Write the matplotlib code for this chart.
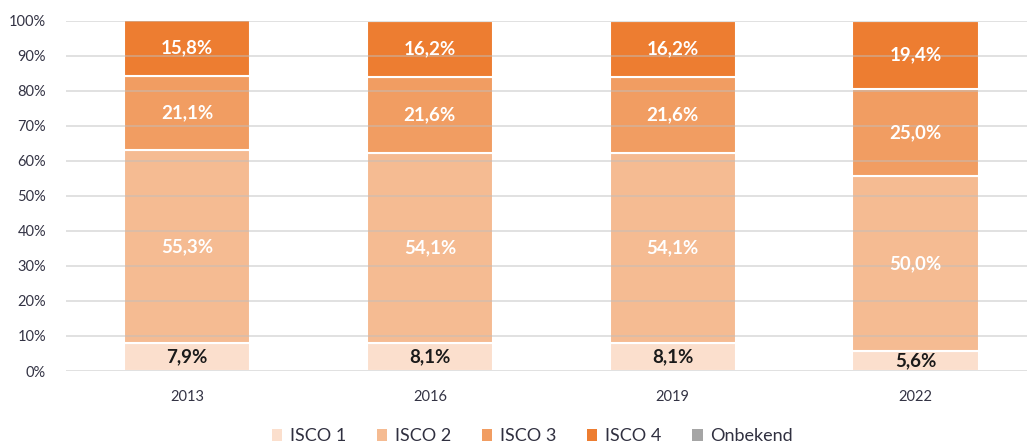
import matplotlib
matplotlib.use("Agg")
import matplotlib.pyplot as plt
from matplotlib.patches import Patch

plt.rcParams['font.family'] = ['Lato', 'DejaVu Sans']

years = ["2013", "2016", "2019", "2022"]
series_names = ["ISCO 1", "ISCO 2", "ISCO 3", "ISCO 4", "Onbekend"]
isco1 = [7.9, 8.1, 8.1, 5.6]
isco2 = [55.3, 54.1, 54.1, 50.0]
isco3 = [21.1, 21.6, 21.6, 25.0]
isco4 = [15.8, 16.2, 16.2, 19.4]
onbekend = [0.0, 0.0, 0.0, 0.0]
yticks = [0, 10, 20, 30, 40, 50, 60, 70, 80, 90, 100]

colors = ["#FBDFCD", "#F5BB92", "#F19D62", "#ED7D31", "#A5A5A5"]
label_colors = ["#1a1a1a", "white", "white", "white", None]

fig = plt.figure(figsize=(10.27, 4.43), dpi=100)
ax = fig.add_axes([0.0638, 0.1625, 0.946, 0.791])

x = list(range(len(years)))
bottom = [0.0] * len(years)
all_series = [isco1, isco2, isco3, isco4, onbekend]
for vals, col, lc in zip(all_series, colors, label_colors):
    bars = ax.bar(x, vals, bottom=bottom, width=0.52, color=col,
                  edgecolor="white", linewidth=1.5, zorder=2)
    if lc is not None:
        for xi, v, b in zip(x, vals, bottom):
            if v > 0:
                ax.text(xi, b + v / 2, f"{v:.1f}%".replace(".", ","),
                        ha="center", va="center", color=lc,
                        fontsize=13.5, fontweight="bold", zorder=4)
    bottom = [b + v for b, v in zip(bottom, vals)]

ax.set_xlim(-0.5, 3.5)
ax.set_ylim(0, 100)
ax.set_yticks(yticks)
ax.set_yticklabels([f"{t}%" for t in yticks])
ax.set_xticks(x)
ax.set_xticklabels(years)
ax.tick_params(axis="both", length=0, labelsize=10.5, colors="#333344")
ax.tick_params(axis="y", pad=14)
ax.tick_params(axis="x", pad=14)
for yt in yticks:
    ax.axhline(yt, color="#BFBFBF", linewidth=1.2, alpha=0.55, zorder=3)
for s in ax.spines.values():
    s.set_visible(False)

handles = [Patch(facecolor=c, edgecolor="none") for c in colors]
fig.legend(handles, series_names, loc="lower center", bbox_to_anchor=(0.518, -0.04),
           ncol=5, frameon=False, fontsize=13, handlelength=0.6, handleheight=0.6,
           handletextpad=0.4, columnspacing=1.7, labelcolor="#303040")

fig.savefig("out.png", dpi=100)
